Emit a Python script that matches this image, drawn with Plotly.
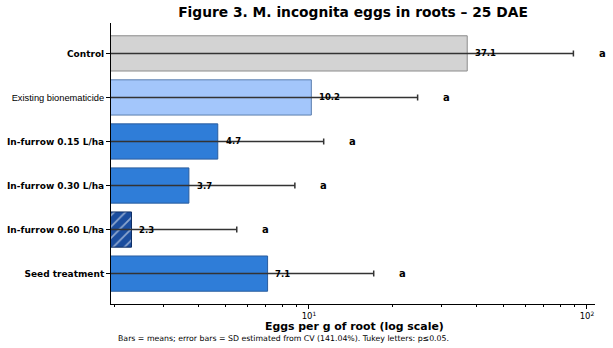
import numpy as np
import plotly.graph_objects as go

categories = ["Control", "Existing bionematicide", "In-furrow 0.15 L/ha",
              "In-furrow 0.30 L/ha", "In-furrow 0.60 L/ha", "Seed treatment"]
means = [37.1, 10.2, 4.7, 3.7, 2.3, 7.1]
sds = [52.3, 14.4, 6.6, 5.2, 3.2, 10.0]
letters = ["a", "a", "a", "a", "a", "a"]
value_labels = ["37.1", "10.2", "4.7", "3.7", "2.3", "7.1"]

fill_colors = ["#d3d3d3", "#a3c6fb", "#2f7dd8", "#2f7dd8", "#1b4d9e", "#2f7dd8"]
edge_colors = ["#8c8c8c", "#5b7eae", "#2a5d9e", "#2a5d9e", "#0f2f66", "#2a5d9e"]
patterns = ["", "", "", "", "/", ""]

W, H = 613, 348
L, R, T, B = 111, 18, 23, 44
pw, ph = W - L - R, H - T - B
xr = [0.288, 2.029]

fig = go.Figure()
fig.add_trace(go.Bar(
    x=means, y=categories, orientation="h", width=0.8,
    marker=dict(color=fill_colors, line=dict(color=edge_colors, width=1),
                pattern=dict(shape=patterns, fgcolor="#061633", size=8, solidity=0.22)),
    error_x=dict(type="data", array=sds, symmetric=True, color="#333333",
                 thickness=1.5, width=3),
    showlegend=False, hoverinfo="skip",
))

font = "DejaVu Sans"


def xpaper(v):
    return (np.log10(v) - xr[0]) / (xr[1] - xr[0])


annotations = []
for i, (cat, m, s, lab, let) in enumerate(zip(categories, means, sds, value_labels, letters)):
    annotations.append(dict(x=np.log10(m * 1.05), y=cat, xref="x", yref="y",
                            text=lab, showarrow=False, xanchor="left", yanchor="middle",
                            font=dict(family=font, size=8.5, color="black", weight=700)))
    annotations.append(dict(x=xpaper((m + s) * 1.27), y=cat, xref="paper", yref="y",
                            text=let, showarrow=False, xanchor="center", yanchor="middle",
                            font=dict(family=font, size=10, color="black", weight=700)))

annotations.append(dict(x=(354 - L) / pw, y=(T + ph - 326) / ph, xref="paper", yref="paper",
                        text="Eggs per g of root (log scale)", showarrow=False,
                        xanchor="center", yanchor="middle",
                        font=dict(family=font, size=10.9, color="black", weight=700)))
annotations.append(dict(x=(283 - L) / pw, y=(T + ph - 338) / ph, xref="paper", yref="paper",
                        text="Bars = means; error bars = SD estimated from CV (141.04%). Tukey letters: p≤0.05.",
                        showarrow=False, xanchor="center", yanchor="middle",
                        font=dict(family=font, size=7.8, color="black")))

ticktext = []
for c in categories:
    if c == "Existing bionematicide":
        ticktext.append('<span style="font-family:\'Liberation Sans\';font-size:9.3px;font-weight:normal">' + c + '</span>')
    else:
        ticktext.append(c)

minor_vals = [2, 3, 4, 5, 6, 7, 8, 9, 20, 30, 40, 50, 60, 70, 80, 90]

fig.update_layout(
    width=W, height=H,
    margin=dict(l=L, r=R, t=T, b=B, autoexpand=False),
    paper_bgcolor="white", plot_bgcolor="white",
    font=dict(family=font, color="black"),
    title=dict(text="Figure 3. M. incognita eggs in roots – 25 DAE",
               x=(L + pw / 2) / W, xanchor="center", y=1 - 12 / H, yanchor="middle",
               yref="container",
               font=dict(family=font, size=13.8, color="black", weight=700)),
    xaxis=dict(type="log", range=xr, showgrid=False, zeroline=False, automargin=False,
               showline=True, linecolor="black", linewidth=1,
               ticks="outside", ticklen=4, tickwidth=1, tickcolor="black",
               tickvals=[10, 100], ticktext=["10<sup>1</sup>", "10<sup>2</sup>"],
               tickfont=dict(family=font, size=8.5, color="black"),
               minor=dict(tickvals=minor_vals, ticks="outside", ticklen=2,
                          tickwidth=0.6, tickcolor="black", showgrid=False)),
    yaxis=dict(type="category", categoryorder="array", categoryarray=categories,
               range=[5.69, -0.69], showgrid=False, zeroline=False, automargin=False,
               showline=True, linecolor="black", linewidth=1,
               ticks="outside", ticklen=4, tickwidth=1, tickcolor="black",
               tickvals=categories, ticktext=ticktext,
               tickfont=dict(family=font, size=9, color="black", weight=700)),
    annotations=annotations,
)

fig.write_html("out.html")
